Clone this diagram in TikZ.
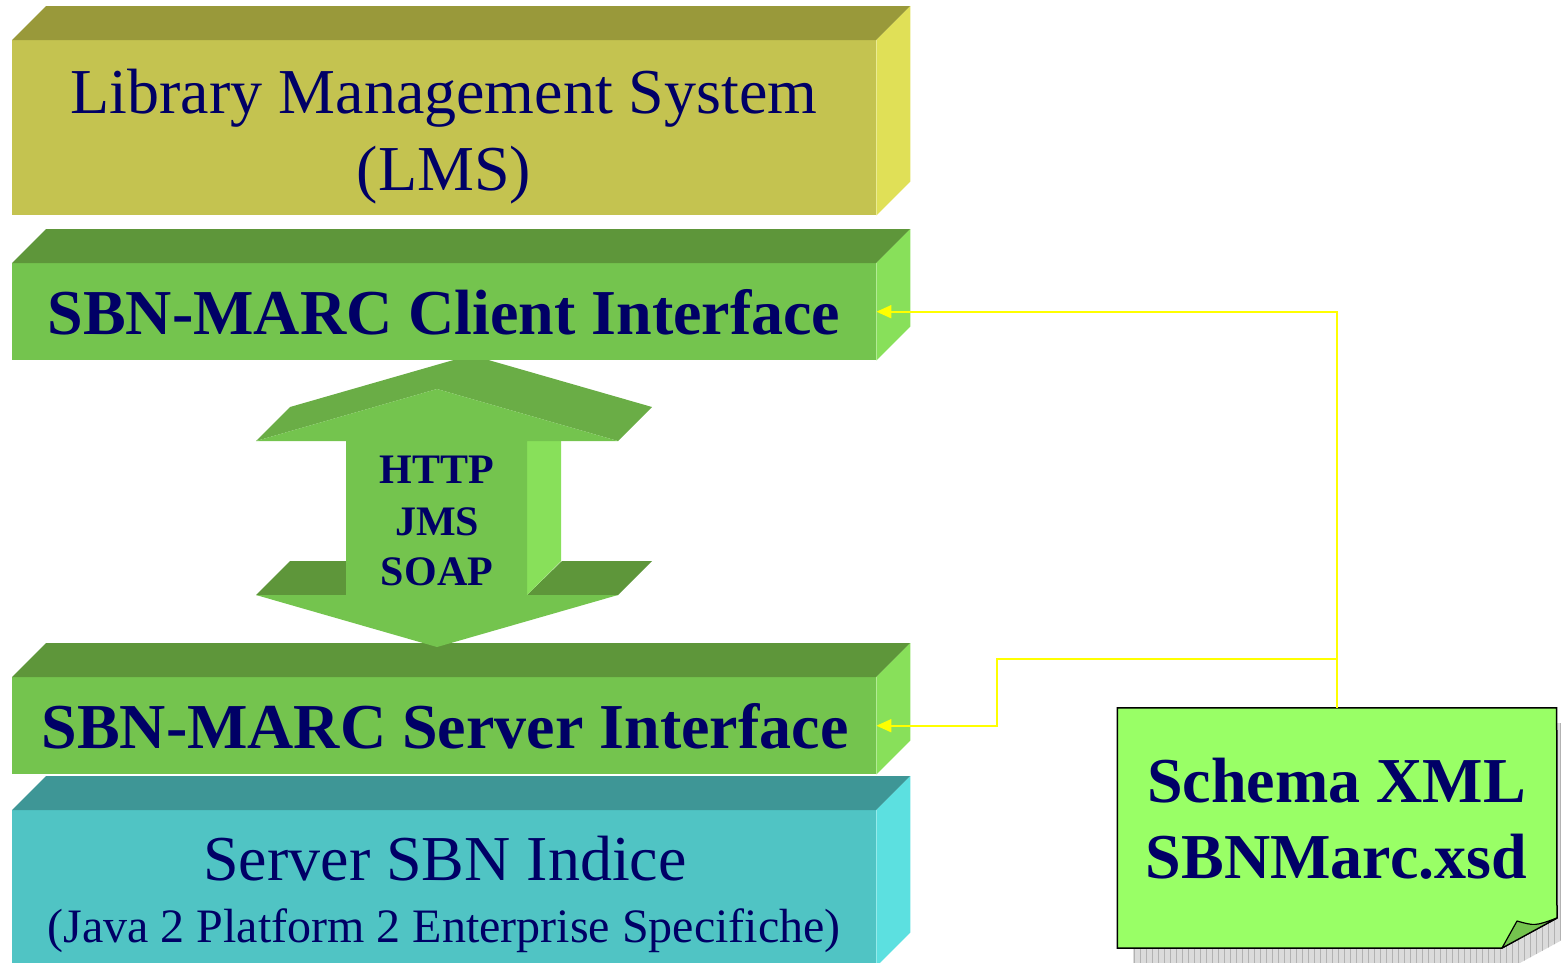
\documentclass[tikz,border=0pt]{standalone}
\usepackage{fontspec}
\setmainfont{Liberation Serif}
\usetikzlibrary{arrows.meta}
\definecolor{lmsfront}{HTML}{C4C350}
\definecolor{lmstop}{HTML}{99993A}
\definecolor{lmsside}{HTML}{E0E057}
\definecolor{grfront}{HTML}{74C44E}
\definecolor{grtop}{HTML}{5E963A}
\definecolor{grside}{HTML}{88E05A}
\definecolor{grhead}{HTML}{6AAD46}
\definecolor{tlfront}{HTML}{50C4C4}
\definecolor{tltop}{HTML}{3E9696}
\definecolor{tlside}{HTML}{5CE0E0}
\definecolor{navy}{HTML}{000066}
\definecolor{schemafill}{HTML}{99FF66}
\definecolor{conncol}{HTML}{FFFF00}
\newcommand\cubefaces[3]{%
  \fill[#2] (#1.north west) -- ++(34,-34) -- ([shift={(34,-34)}]#1.north east) -- (#1.north east) -- cycle;
  \fill[#3] (#1.north east) -- ++(34,-34) -- ([shift={(34,-34)}]#1.south east) -- (#1.south east) -- cycle;}
\begin{document}
\begin{tikzpicture}[x=1pt,y=-1pt,
  front/.style={rectangle, inner sep=0pt, anchor=north west, minimum width=864pt},
  bigtext/.style={text=navy, anchor=base, inner sep=0pt, font=\fontsize{64}{77}\selectfont},
  bigbold/.style={bigtext, font=\fontsize{64}{77}\selectfont\bfseries},
  midtext/.style={text=navy, anchor=base, inner sep=0pt, font=\fontsize{48}{58}\selectfont},
  arrowtext/.style={text=navy, anchor=base, inner sep=0pt, font=\fontsize{42}{50}\selectfont\bfseries},
  conn/.style={draw=conncol, line width=2pt, -{Triangle[length=15pt,width=13pt]}}]
\useasboundingbox (0,0) rectangle (1561,962);
\clip (0,0) rectangle (1561,962);

% LMS box
\node[front, fill=lmsfront, minimum height=175pt] (lms) at (12,40) {};
\cubefaces{lms}{lmstop}{lmsside}
\node[bigtext] (lmsA) at (444,113) {Library Management System};
\node[bigtext] (lmsB) at (444,190) {(LMS)};

% Server interface box
\node[front, fill=grfront, minimum height=97pt] (server) at (12,677) {};
\cubefaces{server}{grtop}{grside}
\node[bigbold] (serverT) at (445,748) {SBN-MARC Server Interface};

% Server SBN Indice box
\node[front, fill=tlfront, minimum height=156pt] (indice) at (12,810) {};
\cubefaces{indice}{tltop}{tlside}
\node[bigtext] (indiceA) at (445,880) {Server SBN Indice};
\node[midtext] (indiceB) at (444,942) {(Java 2 Platform 2 Enterprise Specifiche)};

% double arrow
\fill[grhead] (256,441) -- (290,407) -- (471,355) -- (652,407) -- (618,441) -- (437,389) -- cycle;
\fill[grtop] (256,595) -- (290,561) -- (346,561) -- (346,595) -- cycle;
\fill[grtop] (527,595) -- (562,561) -- (652,561) -- (618,595) -- cycle;
\fill[grside] (527,441) -- (561,441) -- (561,561) -- (527,595) -- cycle;
\fill[grfront] (437,389) -- (618,441) -- (527,441) -- (527,595) -- (618,595) -- (437,647)
  -- (256,595) -- (346,595) -- (346,441) -- (256,441) -- cycle;
\node[arrowtext] (http) at (437,483) {HTTP};
\node[arrowtext] (jms) at (437,535) {JMS};
\node[arrowtext] (soap) at (437,585) {SOAP};

% Client interface box
\node[front, fill=grfront, minimum height=97pt] (client) at (12,263) {};
\cubefaces{client}{grtop}{grside}
\node[bigbold] (clientT) at (444,334) {SBN-MARC Client Interface};

% Schema note
\node[rectangle, inner sep=0pt, minimum width=439pt, minimum height=240pt] (schema) at (1337,828) {};
\begin{scope}
  \clip (1133,723) -- (1573,723) -- (1573,934) -- (1518,964) -- (1133,964) -- cycle;
  \fill[gray!28] (1133,723) rectangle (1573,970);
  \draw[gray!60, line width=0.6pt, step=6] (1130,720) grid (1576,970);
\end{scope}
\draw[black, line width=1.5pt, fill=schemafill]
  (schema.north west) -- (schema.north east) -- (1557,918) -- (1502,948) -- (schema.south west) -- cycle;
\draw[black, line width=1.2pt, fill=grfront, line join=round]
  (1502,948) .. controls (1509,935) .. (1517,921) .. controls (1535,926) .. (1557,918) -- cycle;
\node[bigbold] (schemaA) at (1336.5,802) {Schema XML};
\node[bigbold] (schemaB) at (1336.5,878) {SBNMarc.xsd};

% connectors
\coordinate (junc) at (1337,659);
\coordinate (bend) at (997,659);
\draw[conn] (schema.north) |- (client.east);
\draw[conn] (junc) -- (bend) |- (server.east);
\end{tikzpicture}
\end{document}
